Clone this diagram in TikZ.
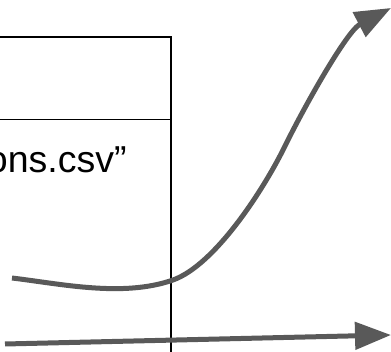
\documentclass[tikz,border=0pt]{standalone}
\usepackage{fontspec}
\setmainfont{Liberation Sans}
\usetikzlibrary{arrows.meta}
\definecolor{arrowgray}{HTML}{595959}
\begin{document}
\begin{tikzpicture}[x=1pt,y=-1pt,
  flow/.style={draw=arrowgray, line width=5pt, -{Triangle[length=36pt,width=27pt]}},
  cellbox/.style={draw=black, line width=1.8pt, inner sep=0pt, minimum width=370.7pt, minimum height=363.3pt},
  divider/.style={draw=black, line width=1pt},
  celltext/.style={inner sep=0pt, anchor=base west, font=\fontsize{37.5pt}{44pt}\selectfont}]
\useasboundingbox (0,0) rectangle (391,352);
\clip (0,0) rectangle (391,352);

% table cell running off the page to the left and bottom
\node[cellbox] (cell) at (-14.65,218.35) {};
\coordinate (divy) at (0,119.3);
\draw[divider] (cell.west |- divy) -- (cell.east |- divy);

% file name in the lower row
\node[celltext] (fname) at (-13.25,172.3) {ons.csv”};

% rising curve
\coordinate (c0) at (12,278);
\coordinate (c1) at (173,280);
\coordinate (c2) at (283,150);
\coordinate (ctip) at (391,8);
\draw[flow] (c0) .. controls (62,284) and (123,297.5) .. (c1)
  .. controls (215,265) and (263,190) .. (c2)
  .. controls (305,105) and (347,31) .. (ctip);

% flat arrow along the bottom
\coordinate (s0) at (5,344);
\coordinate (s1) at (391,335);
\draw[flow] (s0) -- (s1);
\end{tikzpicture}
\end{document}
